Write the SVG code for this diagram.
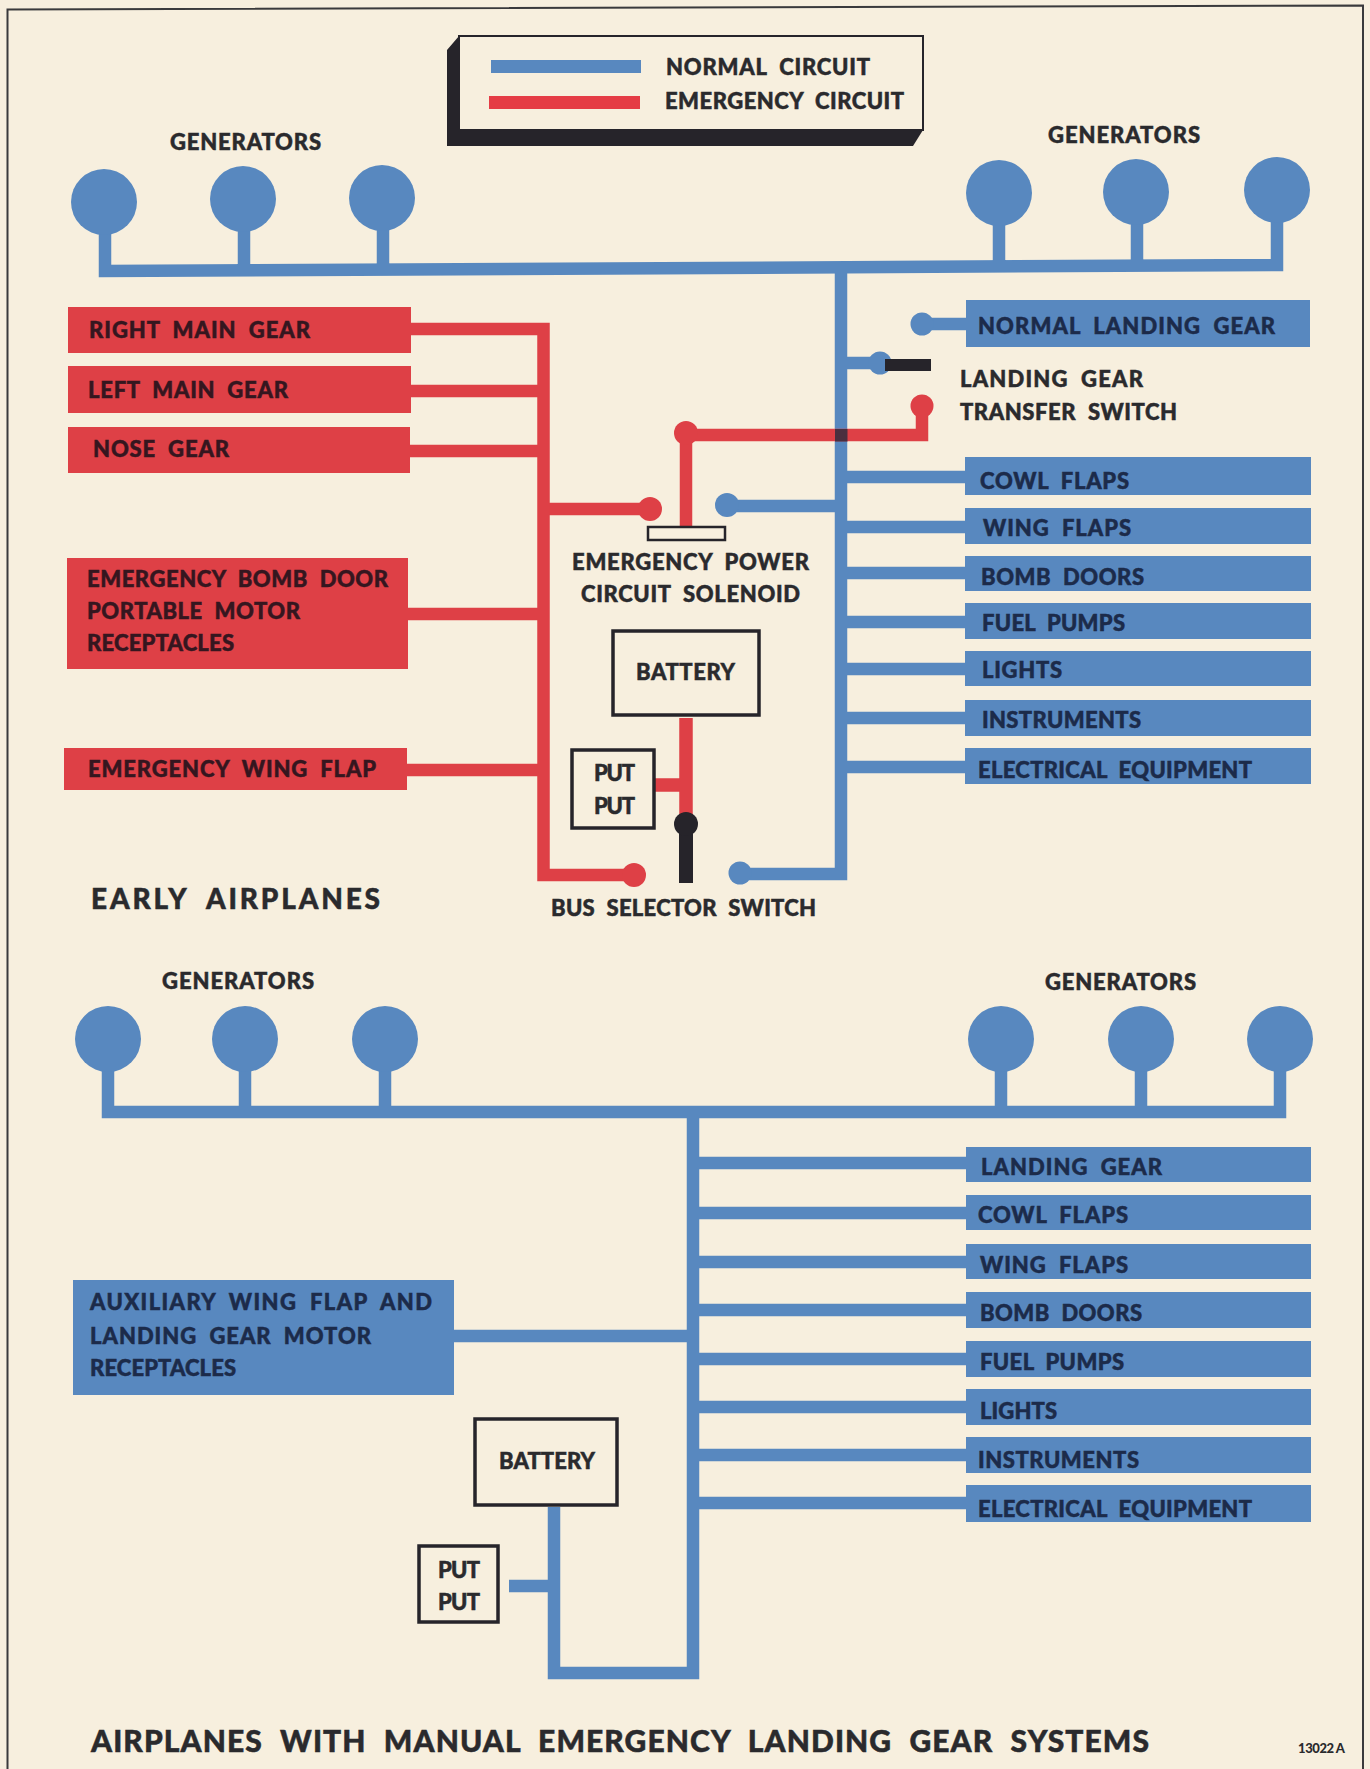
<svg xmlns="http://www.w3.org/2000/svg" width="1370" height="1769" viewBox="0 0 1370 1769">
<style>
text{font-family:"Lato","Liberation Sans",sans-serif;font-weight:900;font-size:22px;word-spacing:6px;fill:#2a2a2d;stroke:#2a2a2d;stroke-width:.5px}
.onr{fill:#35161f;stroke:#35161f}
.onb{fill:#1c2b4a;stroke:#1c2b4a}
.big{font-size:28px;word-spacing:9px}
.title{font-size:30px;word-spacing:9px}
.tiny{font-size:13px;word-spacing:0;stroke-width:0}
.b{fill:#5888bf}.r{fill:#de4046}.k{fill:#26242a}
.wb{fill:none;stroke:#5888bf;stroke-width:12.500}
.wr{fill:none;stroke:#de4046;stroke-width:12.500}
.wr2{fill:none;stroke:#de4046;stroke-width:13.500}
.wk{fill:none;stroke:#26242a;stroke-width:14}
.box{fill:#f7efde;stroke:#26242a;stroke-width:3.500}
.thin{fill:#f7efde;stroke:#26242a;stroke-width:2.500}
</style>
<rect width="1370" height="1769" fill="#f7efde"/>
<path id="frame" d="M7.500 1769V9.500L1363 5.500V1769" fill="none" stroke="#3a3a3c" stroke-width="2"/>

<g id="connectors">
<path class="wb" d="M105 202V271L1277 265V190M244 199V270M383 198V270M999 193V267M1137 192V266"/>
<path class="wb" d="M841 267V874H740M841 363H880M972 477H841M972 527H841M972 573H841M972 622H841M972 669H841M972 718H841M972 767H841M841 506H727M922 324H972"/>
<circle class="b" cx="727" cy="505" r="12"/><circle class="b" cx="740" cy="873" r="11.500"/><circle class="b" cx="880" cy="363" r="11.500"/><circle class="b" cx="922" cy="324" r="11.500"/>
<path class="wr" d="M405 329H543.500V875H634M405 391H543M405 451H543M405 614H543M405 770H543M543 509H650M686 528V435H922V406"/>
<rect x="835" y="429" width="12.500" height="12.500" fill="#4a2f3f"/>
<circle class="r" cx="650" cy="509" r="12"/><circle class="r" cx="634" cy="875" r="12"/><circle class="r" cx="686" cy="433" r="12"/><circle class="r" cx="922" cy="406" r="11.500"/>
<path class="wr2" d="M686 718V824M655 785H686"/>
<path class="wk" d="M686 824V883"/>
<circle class="k" cx="686" cy="824" r="12"/>
<rect class="k" x="885" y="359" width="46" height="12"/>
<path class="wb" d="M108 1039V1112H1280V1039M245 1039V1112M385 1039V1112M1001 1039V1112M1141 1039V1112"/>
<path class="wb" d="M693 1112V1673H554V1507M554 1586H509M454 1336H693M693 1163H972M693 1213H972M693 1262H972M693 1310H972M693 1359H972M693 1407H972M693 1455H972M693 1503H972"/>
</g>

<g id="legend">
<path class="k" d="M447 50L459 36V130H923L913 146H447Z"/>
<rect class="thin" x="459" y="36" width="464" height="94" style="stroke-width:2"/>
<rect class="b" x="491" y="60" width="150" height="13"/>
<rect class="r" x="489" y="96" width="151" height="13" style="fill:#e53c45"/>
<text x="666" y="75" textLength="204">NORMAL CIRCUIT</text>
<text x="665" y="109" textLength="239">EMERGENCY CIRCUIT</text>
</g>

<g id="generators-early-left">
<text x="170" y="150" textLength="151">GENERATORS</text>
<circle class="b" cx="104" cy="202" r="33"/><circle class="b" cx="243" cy="199" r="33"/><circle class="b" cx="382" cy="198" r="33"/>
</g>
<g id="generators-early-right">
<text x="1048" y="143" textLength="152">GENERATORS</text>
<circle class="b" cx="999" cy="193" r="33"/><circle class="b" cx="1136" cy="192" r="33"/><circle class="b" cx="1277" cy="190" r="33"/>
</g>

<g id="right-main-gear"><rect class="r" x="68" y="307" width="343" height="46"/><text class="onr" x="89" y="338" textLength="221">RIGHT MAIN GEAR</text></g>
<g id="left-main-gear"><rect class="r" x="68" y="366" width="343" height="47"/><text class="onr" x="88" y="398" textLength="200">LEFT MAIN GEAR</text></g>
<g id="nose-gear"><rect class="r" x="68" y="427" width="342" height="46"/><text class="onr" x="93" y="457" textLength="136">NOSE GEAR</text></g>
<g id="emergency-bomb-door"><rect class="r" x="67" y="558" width="341" height="111"/><text class="onr" x="87" y="587" textLength="301">EMERGENCY BOMB DOOR</text><text class="onr" x="87" y="619" textLength="213">PORTABLE MOTOR</text><text class="onr" x="87" y="651" textLength="147">RECEPTACLES</text></g>
<g id="emergency-wing-flap"><rect class="r" x="64" y="748" width="343" height="42"/><text class="onr" x="88" y="777" textLength="288">EMERGENCY WING FLAP</text></g>

<g id="solenoid"><rect class="thin" x="648" y="527" width="77" height="13"/><text x="572" y="570" textLength="237">EMERGENCY POWER</text><text x="581" y="602" textLength="219">CIRCUIT SOLENOID</text></g>
<g id="battery-early"><rect class="box" x="613" y="631" width="146" height="84"/><text x="636" y="680" textLength="99">BATTERY</text></g>
<g id="put-early"><rect class="box" x="572" y="750" width="82" height="78"/><text x="594" y="781" textLength="41">PUT</text><text x="594" y="814" textLength="41">PUT</text></g>
<g id="bus-selector"><text x="551" y="916" textLength="265">BUS SELECTOR SWITCH</text></g>
<g id="transfer-switch"><text x="960" y="387" textLength="183">LANDING GEAR</text><text x="960" y="420" textLength="217">TRANSFER SWITCH</text></g>
<g id="normal-landing-gear"><rect class="b" x="966" y="300" width="344" height="47"/><text class="onb" x="978" y="334" textLength="297">NORMAL LANDING GEAR</text></g>
<g id="cowl-flaps"><rect class="b" x="965" y="457" width="346" height="38"/><text class="onb" x="980" y="489" textLength="149">COWL FLAPS</text></g>
<g id="wing-flaps"><rect class="b" x="965" y="508" width="346" height="36"/><text class="onb" x="983" y="536" textLength="148">WING FLAPS</text></g>
<g id="bomb-doors"><rect class="b" x="965" y="556" width="346" height="35"/><text class="onb" x="981" y="585" textLength="163">BOMB DOORS</text></g>
<g id="fuel-pumps"><rect class="b" x="965" y="603" width="346" height="36"/><text class="onb" x="982" y="631" textLength="143">FUEL PUMPS</text></g>
<g id="lights"><rect class="b" x="965" y="651" width="346" height="35"/><text class="onb" x="982" y="678" textLength="80">LIGHTS</text></g>
<g id="instruments"><rect class="b" x="965" y="700" width="346" height="36"/><text class="onb" x="982" y="728" textLength="159">INSTRUMENTS</text></g>
<g id="electrical-equipment"><rect class="b" x="965" y="748" width="346" height="36"/><text class="onb" x="978" y="778" textLength="274">ELECTRICAL EQUIPMENT</text></g>
<text id="label-early" class="big" x="91" y="909" textLength="289">EARLY AIRPLANES</text>

<g id="generators-manual-left">
<text x="162" y="989" textLength="152">GENERATORS</text>
<circle class="b" cx="108" cy="1039" r="33"/><circle class="b" cx="245" cy="1039" r="33"/><circle class="b" cx="385" cy="1039" r="33"/>
</g>
<g id="generators-manual-right">
<text x="1045" y="990" textLength="151">GENERATORS</text>
<circle class="b" cx="1001" cy="1039" r="33"/><circle class="b" cx="1141" cy="1039" r="33"/><circle class="b" cx="1280" cy="1039" r="33"/>
</g>
<g id="landing-gear-m"><rect class="b" x="966" y="1147" width="345" height="35"/><text class="onb" x="981" y="1175" textLength="181">LANDING GEAR</text></g>
<g id="cowl-flaps-m"><rect class="b" x="966" y="1195" width="345" height="35"/><text class="onb" x="978" y="1223" textLength="150">COWL FLAPS</text></g>
<g id="wing-flaps-m"><rect class="b" x="966" y="1244" width="345" height="35"/><text class="onb" x="980" y="1273" textLength="148">WING FLAPS</text></g>
<g id="bomb-doors-m"><rect class="b" x="966" y="1292" width="345" height="36"/><text class="onb" x="980" y="1321" textLength="162">BOMB DOORS</text></g>
<g id="fuel-pumps-m"><rect class="b" x="966" y="1341" width="345" height="36"/><text class="onb" x="980" y="1370" textLength="144">FUEL PUMPS</text></g>
<g id="lights-m"><rect class="b" x="966" y="1389" width="345" height="36"/><text class="onb" x="980" y="1419" textLength="77">LIGHTS</text></g>
<g id="instruments-m"><rect class="b" x="966" y="1437" width="345" height="36"/><text class="onb" x="978" y="1468" textLength="161">INSTRUMENTS</text></g>
<g id="electrical-equipment-m"><rect class="b" x="966" y="1485" width="345" height="37"/><text class="onb" x="978" y="1517" textLength="274">ELECTRICAL EQUIPMENT</text></g>
<g id="auxiliary"><rect class="b" x="73" y="1280" width="381" height="115"/><text class="onb" x="90" y="1310" textLength="342">AUXILIARY WING FLAP AND</text><text class="onb" x="90" y="1344" textLength="281">LANDING GEAR MOTOR</text><text class="onb" x="90" y="1376" textLength="146">RECEPTACLES</text></g>
<g id="battery-manual"><rect class="box" x="475" y="1419" width="142" height="86"/><text x="499" y="1469" textLength="96">BATTERY</text></g>
<g id="put-manual"><rect class="box" x="419" y="1546" width="79" height="76"/><text x="438" y="1578" textLength="42">PUT</text><text x="438" y="1610" textLength="42">PUT</text></g>
<text id="label-manual" class="title" x="91" y="1752" textLength="1058">AIRPLANES WITH MANUAL EMERGENCY LANDING GEAR SYSTEMS</text>
<text id="drawing-number" class="tiny" x="1298" y="1753" textLength="47">13022 A</text>
</svg>
